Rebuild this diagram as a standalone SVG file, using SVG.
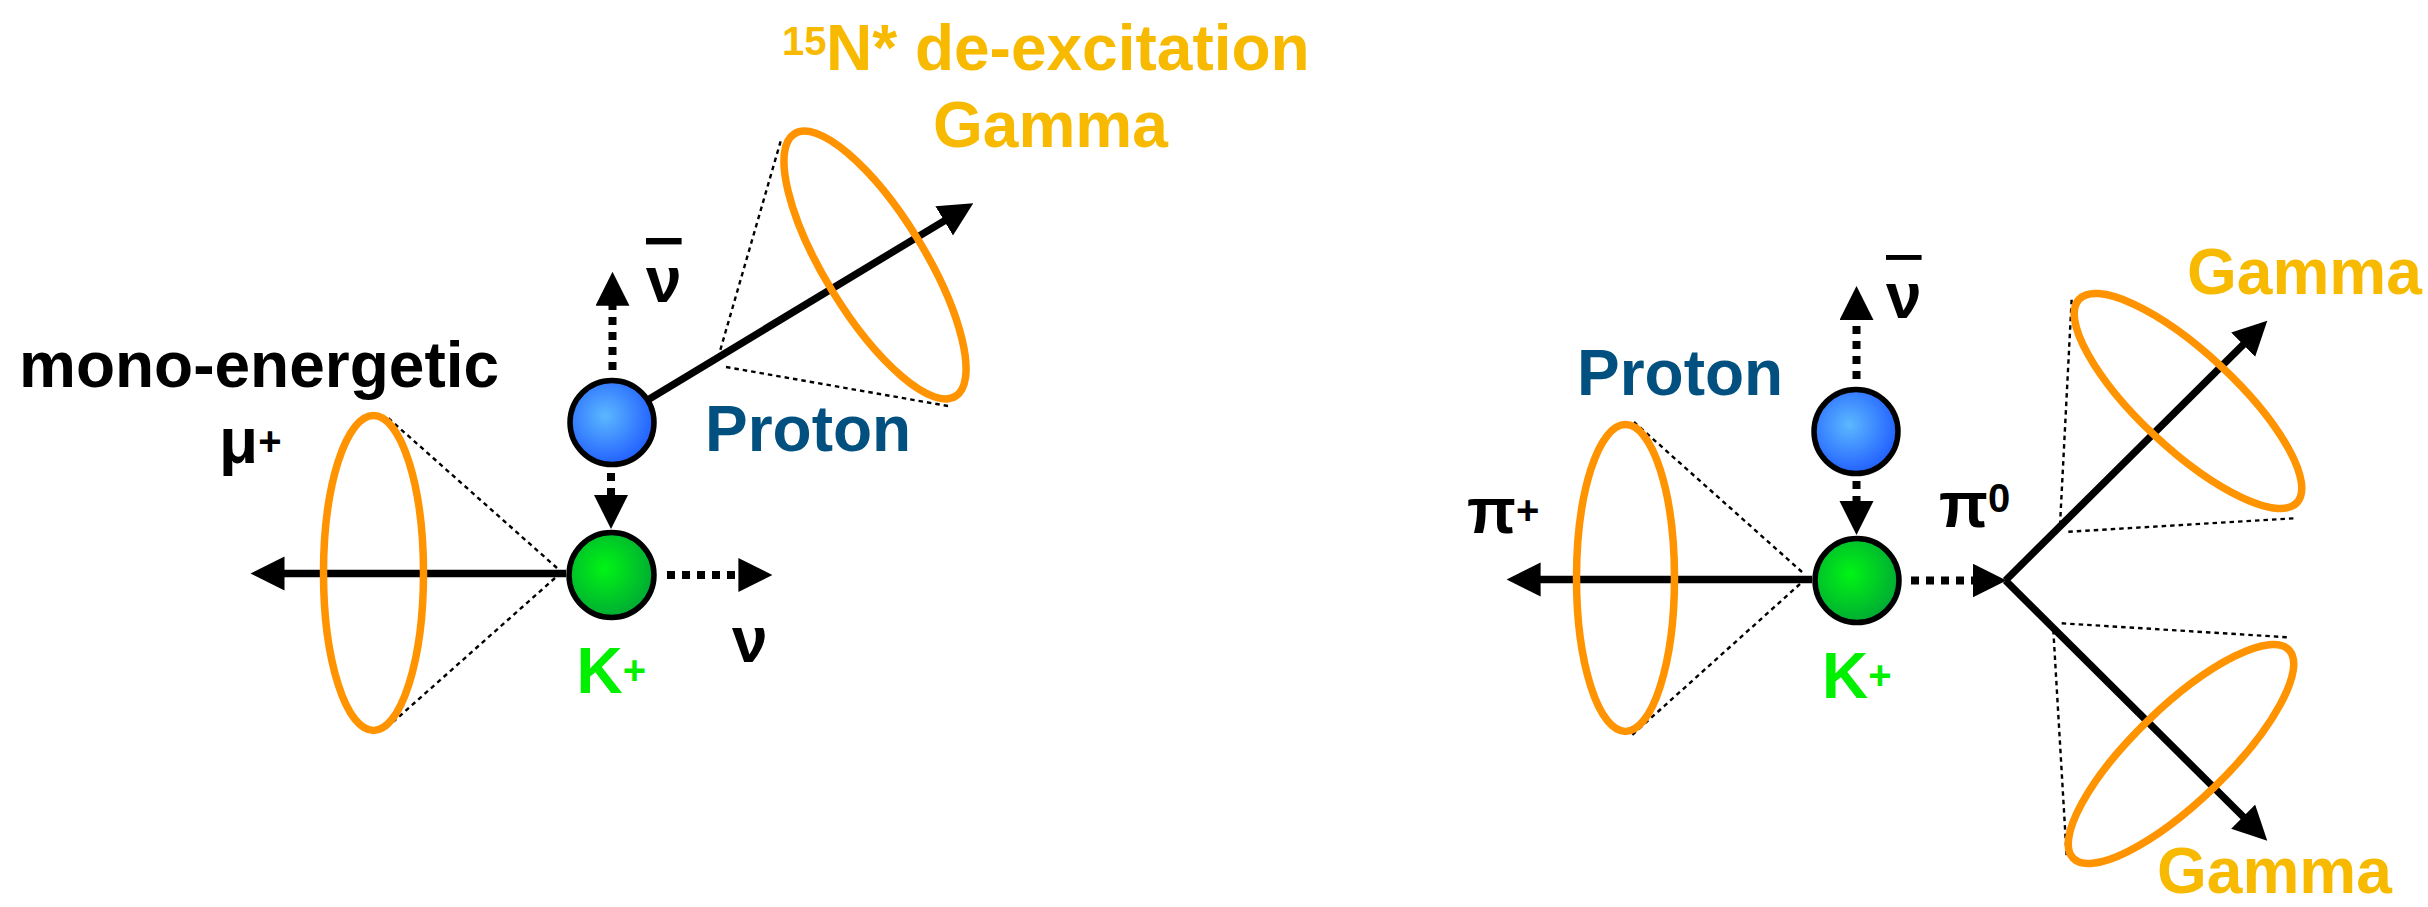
<svg xmlns="http://www.w3.org/2000/svg" width="2428" height="907" viewBox="0 0 2428 907">
<style>
text{font-family:"Liberation Sans",Arial,sans-serif;font-weight:bold;font-size:64px}
.blk{fill:#000}
.gam{fill:#F7BA00}
.pro{fill:#02507F}
.kp{fill:#00F000}
.sup{font-size:40px}
.ell{fill:none;stroke:#FF9300;stroke-width:7.5}
.cone{fill:none;stroke:#000;stroke-width:2.4;stroke-dasharray:4.5 4}
.solid{fill:none;stroke:#000;stroke-width:7.3;marker-end:url(#ah)}
.dot{fill:none;stroke:#000;stroke-width:8;stroke-dasharray:8 7;marker-end:url(#ah)}
.bar{text-decoration:overline}
.pball{fill:url(#gb);stroke:#000;stroke-width:5.5}
.kball{fill:url(#gg);stroke:#000;stroke-width:5.5}
</style>
<defs>
<marker id="ah" markerUnits="userSpaceOnUse" markerWidth="40" markerHeight="40" refX="4" refY="17" orient="auto"><path d="M0,0 L34,17 L0,34 z" fill="#000"/></marker>
<radialGradient id="gb" cx="0.42" cy="0.42" r="0.62"><stop offset="0" stop-color="#5CB8FF"/><stop offset="1" stop-color="#1F5CFF"/></radialGradient>
<radialGradient id="gg" cx="0.42" cy="0.42" r="0.62"><stop offset="0" stop-color="#00F514"/><stop offset="1" stop-color="#00A835"/></radialGradient>
</defs>
<rect width="2428" height="907" fill="#fff"/>

<g id="connectors">
<!-- left panel -->
<line class="cone" x1="557" y1="568" x2="387" y2="417"/>
<line class="cone" x1="555" y1="578" x2="384" y2="730"/>
<line class="cone" x1="718" y1="358" x2="781" y2="140"/>
<line class="cone" x1="726" y1="367" x2="948" y2="406"/>
<line class="solid" x1="566" y1="573.5" x2="280.5" y2="573.5"/>
<line class="dot" x1="667" y1="575" x2="742.4" y2="575"/>
<line class="dot" x1="612.5" y1="370" x2="612.5" y2="301.7"/>
<line class="dot" x1="611" y1="473" x2="611" y2="499"/>
<line class="solid" x1="648.7" y1="399.3" x2="947.6" y2="218.8"/>
<!-- right panel -->
<line class="cone" x1="1802" y1="572" x2="1634" y2="422"/>
<line class="cone" x1="1800" y1="584" x2="1632" y2="735"/>
<line class="cone" x1="2060" y1="525" x2="2071.7" y2="298.3"/>
<line class="cone" x1="2068.3" y1="531.7" x2="2295" y2="518.3"/>
<line class="cone" x1="2053.3" y1="630" x2="2066.7" y2="856.7"/>
<line class="cone" x1="2061.7" y1="623.3" x2="2288.3" y2="637.3"/>
<line class="solid" x1="1812" y1="579.5" x2="1536.6" y2="579.5"/>
<line class="dot" x1="1856.5" y1="379" x2="1856.5" y2="316"/>
<line class="dot" x1="1856.5" y1="481" x2="1856.5" y2="505"/>
<line class="dot" x1="1911" y1="580.5" x2="1976.5" y2="580.5"/>
<line class="solid" x1="2005.5" y1="580.5" x2="2246" y2="341.8"/>
<line class="solid" x1="2005.5" y1="580.5" x2="2246" y2="819.5"/>
</g>

<g id="mu-cone"><ellipse class="ell" cx="373.5" cy="573" rx="50" ry="157.5"/></g>
<g id="gamma-cone-left"><ellipse class="ell" cx="875" cy="265" rx="154" ry="50" transform="rotate(58.5 875 265)"/></g>
<g id="pi-cone"><ellipse class="ell" cx="1625.5" cy="578" rx="49" ry="153.5"/></g>
<g id="gamma-cone-upper"><ellipse class="ell" cx="2188" cy="401" rx="149" ry="48" transform="rotate(43 2188 401)"/></g>
<g id="gamma-cone-lower"><ellipse class="ell" cx="2181" cy="754" rx="150" ry="47" transform="rotate(-44 2181 754)"/></g>

<g id="proton-left"><circle class="pball" cx="612" cy="422.5" r="42"/></g>
<g id="kaon-left"><circle class="kball" cx="611.5" cy="575" r="42.5"/></g>
<g id="proton-right"><circle class="pball" cx="1856" cy="431.5" r="42"/></g>
<g id="kaon-right"><circle class="kball" cx="1857" cy="580.5" r="42"/></g>

<g id="labels-left">
<text class="gam" x="782" y="55" style="font-size:40px">15</text>
<text class="gam" x="826" y="70">N* de-excitation</text>
<text class="gam" x="933" y="147">Gamma</text>
<text class="blk" x="19" y="387">mono-energetic</text>
<text class="blk" x="219" y="463">μ<tspan class="sup" dy="-8">+</tspan></text>
<text class="pro" x="705" y="451">Proton</text>
<text class="blk bar" x="646" y="302">ν</text>
<text class="kp" x="576.5" y="693">K<tspan class="sup" dy="-9">+</tspan></text>
<text class="blk" x="732" y="662">ν</text>
</g>

<g id="labels-right">
<text class="pro" x="1577" y="395">Proton</text>
<text class="blk bar" x="1886" y="317.5">ν</text>
<text class="blk" x="1467" y="533">π<tspan class="sup" dy="-9">+</tspan></text>
<text class="blk" x="1939" y="527">π<tspan class="sup" dy="-15">0</tspan></text>
<text class="kp" x="1822" y="698">K<tspan class="sup" dy="-9">+</tspan></text>
<text class="gam" x="2187" y="294">Gamma</text>
<text class="gam" x="2157" y="893">Gamma</text>
</g>
</svg>
